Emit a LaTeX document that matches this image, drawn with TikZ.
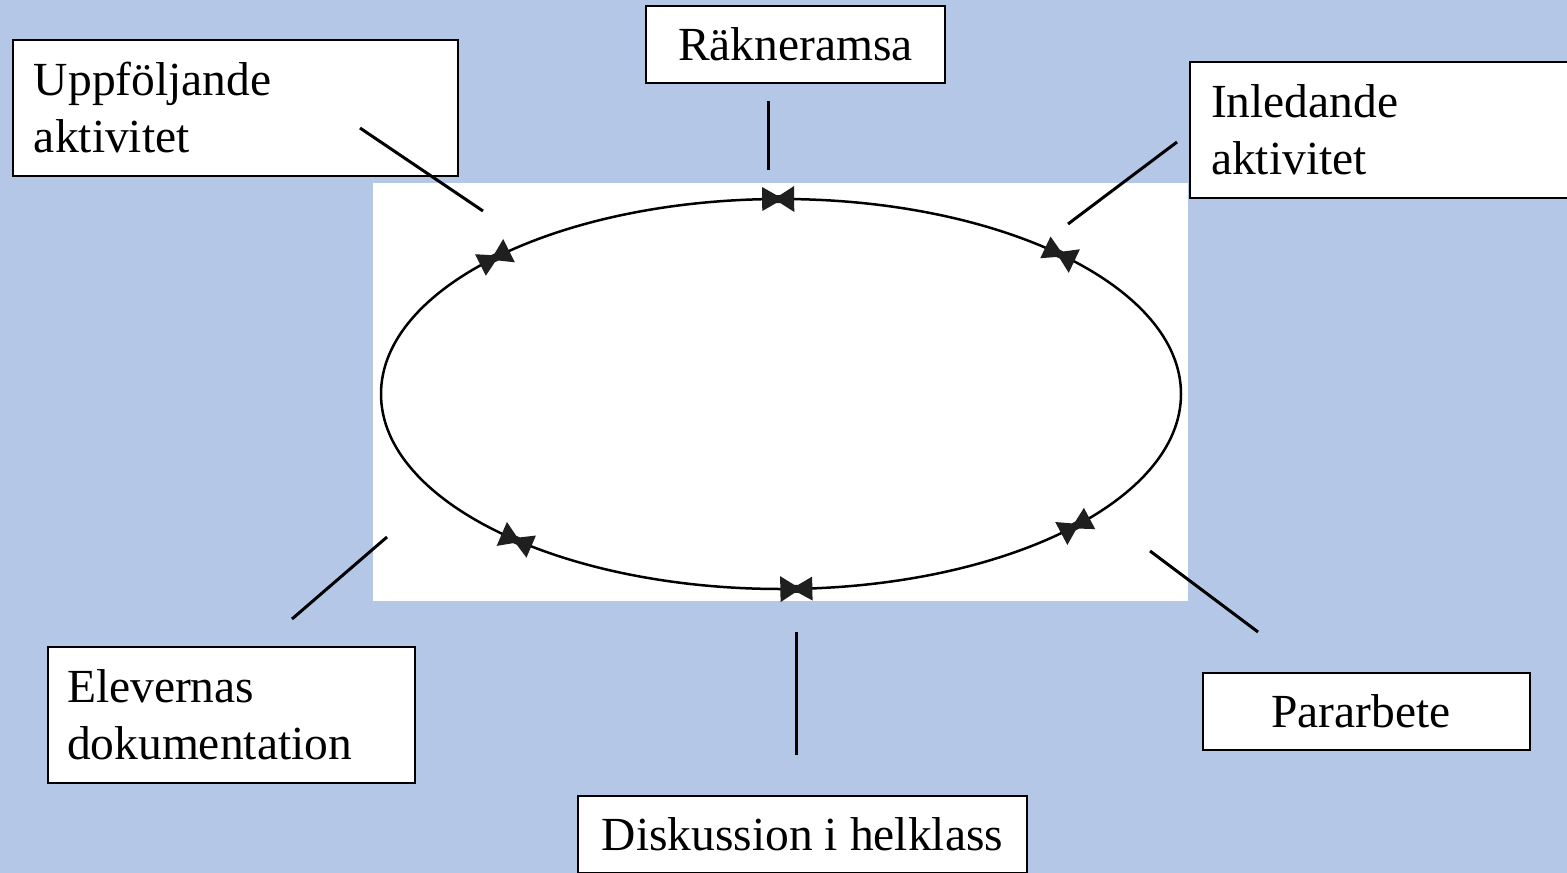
\documentclass[tikz,border=0pt]{standalone}
\usepackage{fontspec}
\setmainfont{Liberation Serif}
\definecolor{bgblue}{RGB}{180,199,231}
\begin{document}
\begin{tikzpicture}[x=1pt,y=-1pt,
  box/.style={draw=black, line width=2pt, fill=white, text=black,
    font=\fontsize{47.5}{57}\selectfont, inner ysep=0pt},
  boxtwo/.style={box, align=left, inner xsep=21pt, anchor=north west,
    minimum height=136pt},
  boxone/.style={box, align=center, inner xsep=0pt, minimum height=77pt},
  conn/.style={line width=3pt, black},
  cycleline/.style={line width=2.5pt, black},
  tie/.style={fill=black!88}]
\useasboundingbox (0,0) rectangle (1567,873);
\fill[bgblue] (0,0) rectangle (1567,873);

% white panel with the cycle
\fill[white] (373,183) rectangle (1188,601);
\draw[cycleline] (781,394) ellipse [x radius=400, y radius=195];

% markers on the cycle (given by ellipse parameter)
\foreach \t in {90.4,45.8,135.7,-42.6,-131.4,-87.8}{
  \pgfmathsetmacro{\px}{781+400*cos(\t)}
  \pgfmathsetmacro{\py}{394-195*sin(\t)}
  \pgfmathsetmacro{\ang}{atan2(195*cos(\t),-400*sin(\t))}
  \fill[tie, shift={(\px,\py)}, rotate=\ang]
    (-16,-13) -- (-2,-4) -- (2,-4) -- (16,-12) -- (16,12) -- (2,4)
    -- (-2,4) -- (-16,13) -- cycle;
}

% text boxes
\node[boxtwo, text width=403pt] (upp) at (12,39) {Uppföljande\\aktivitet};
\node[boxone, minimum width=299pt] (rak) at (795.5,44.5) {Räkneramsa};
\node[boxtwo, text width=400pt] (inl) at (1189,61) {Inledande\\aktivitet};
\node[boxone, minimum width=327pt, text width=327pt, align=center,
  xshift=0pt] (par) at (1366.5,711.5) {\hspace*{-11pt}Pararbete};
\node[boxone, minimum width=449pt] (dis) at (802.5,834.5) {Diskussion i helklass};
\node[boxtwo, text width=329pt, inner xsep=19pt] (elv) at (47,646) {Elevernas\\dokumentation};

% connector ends
\coordinate (upp1) at (360,128);  \coordinate (upp2) at (483,211);
\coordinate (rak1) at (768,101);  \coordinate (rak2) at (768,170);
\coordinate (inl1) at (1177,142); \coordinate (inl2) at (1068,224);
\coordinate (par1) at (1258,632); \coordinate (par2) at (1150,551);
\coordinate (dis1) at (796,755);  \coordinate (dis2) at (796,632);
\coordinate (elv1) at (292,619);  \coordinate (elv2) at (387,537);

\draw[conn] (upp1) -- (upp2);
\draw[conn] (rak1) -- (rak2);
\draw[conn] (inl1) -- (inl2);
\draw[conn] (par1) -- (par2);
\draw[conn] (dis1) -- (dis2);
\draw[conn] (elv1) -- (elv2);
\end{tikzpicture}
\end{document}
